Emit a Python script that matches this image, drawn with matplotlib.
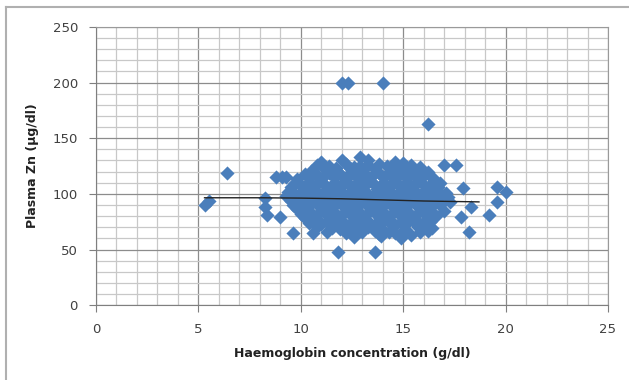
import matplotlib
matplotlib.use('Agg')
import matplotlib.pyplot as plt
from matplotlib.lines import Line2D
from matplotlib.ticker import MultipleLocator

# haemoglobin (g/dl) and plasma zinc (ug/dl)
hb = [
    11.0, 12.0, 12.9, 13.3, 14.6, 15.0,
    10.8, 11.4, 12.2, 12.6, 13.8, 14.2, 15.4, 15.8,
    10.5, 11.2, 11.8, 12.4, 13.0, 13.6, 14.4, 15.0, 15.6, 16.2,
    10.2, 10.8, 11.4, 12.0, 12.6, 13.2, 13.8, 14.4, 15.0, 15.6, 16.3,
    9.8, 10.4, 11.0, 11.6, 12.2, 12.8, 13.4, 14.0, 14.6, 15.2, 15.8, 16.5,
    9.7, 10.3, 10.9, 11.5, 12.1, 12.7, 13.3, 13.9, 14.5, 15.1, 15.7, 16.3, 16.8,
    9.5, 10.1, 10.7, 11.3, 11.9, 12.5, 13.1, 13.7, 14.3, 14.9, 15.5, 16.1, 16.7,
    9.4, 10.0, 10.6, 11.2, 11.8, 12.4, 13.0, 13.6, 14.2, 14.8, 15.4, 16.0, 16.6, 17.1,
    9.3, 9.9, 10.5, 11.1, 11.7, 12.3, 12.9, 13.5, 14.1, 14.7, 15.3, 15.9, 16.5, 17.2,
    9.5, 10.1, 10.7, 11.3, 11.9, 12.5, 13.1, 13.7, 14.3, 14.9, 15.5, 16.1, 16.7, 17.3,
    9.6, 10.2, 10.8, 11.4, 12.0, 12.6, 13.2, 13.8, 14.4, 15.0, 15.6, 16.2, 16.8,
    9.8, 10.4, 11.0, 11.6, 12.2, 12.8, 13.4, 14.0, 14.6, 15.2, 15.8, 16.4, 17.0,
    10.0, 10.6, 11.2, 11.8, 12.4, 13.0, 13.6, 14.2, 14.8, 15.4, 16.0, 16.6,
    10.2, 10.8, 11.4, 12.0, 12.6, 13.2, 13.8, 14.4, 15.0, 15.6, 16.2,
    10.4, 11.0, 11.6, 12.2, 12.8, 13.4, 14.0, 14.6, 15.2, 15.8, 16.3,
    10.8, 11.5, 12.1, 12.7, 13.3, 13.9, 14.5, 15.1, 15.7, 16.4,
    11.3, 12.2, 13.0, 13.8, 14.6, 15.4, 16.2,
    12.6, 13.9, 14.9,
    # in-between points of the dense core
    11.1, 11.7, 12.9, 13.3, 14.7, 15.2,
    10.5, 11.1, 11.7, 12.3, 12.9, 13.5, 14.1, 14.7, 15.3, 15.9,
    10.0, 10.6, 11.2, 11.8, 12.4, 13.0, 13.6, 14.2, 14.8, 15.4, 16.0, 16.5,
    9.7, 10.3, 10.9, 11.5, 12.1, 12.7, 13.3, 13.9, 14.5, 15.1, 15.7, 16.3, 16.9,
    9.9, 10.5, 11.1, 11.7, 12.3, 12.9, 13.5, 14.1, 14.7, 15.3, 15.9, 16.5,
    10.3, 10.9, 11.5, 12.1, 12.7, 13.3, 13.9, 14.5, 15.1, 15.7, 16.3,
    10.7, 11.3, 11.9, 12.5, 13.1, 13.7, 14.3, 14.9, 15.5, 16.0,
    11.9, 12.4, 13.6, 14.3, 15.0, 15.8,
    # outliers
    5.3, 5.5, 6.4, 8.8, 9.1, 9.3, 8.25, 8.25, 8.35, 9.0, 9.6, 10.6, 11.8, 13.6,
    12.0, 12.3, 14.0, 16.2, 17.0, 17.6, 17.9, 18.3, 17.8, 18.2,
    19.2, 19.6, 19.6, 20.0,
]
zn = [
    129, 130, 133, 130, 129, 128,
    126, 125, 127, 124, 127, 125, 126, 124,
    121, 122, 120, 123, 121, 122, 120, 123, 121, 120,
    118, 117, 119, 116, 118, 117, 119, 116, 118, 117, 116,
    113, 114, 112, 115, 113, 114, 112, 115, 113, 114, 112, 113,
    110, 109, 111, 108, 110, 109, 111, 108, 110, 109, 111, 108, 110,
    106, 105, 107, 104, 106, 105, 107, 104, 106, 105, 107, 104, 106,
    102, 101, 103, 100, 102, 101, 103, 100, 102, 101, 103, 100, 102, 101,
    98, 97, 99, 96, 98, 97, 99, 96, 98, 97, 99, 96, 98, 97,
    94, 93, 95, 92, 94, 93, 95, 92, 94, 93, 95, 92, 94, 93,
    90, 89, 91, 88, 90, 89, 91, 88, 90, 89, 91, 88, 90,
    86, 85, 87, 84, 86, 85, 87, 84, 86, 85, 87, 84, 85,
    82, 81, 83, 80, 82, 81, 83, 80, 82, 81, 83, 80,
    78, 77, 79, 76, 78, 77, 79, 76, 78, 77, 79,
    74, 73, 75, 72, 74, 73, 75, 72, 74, 73, 75,
    70, 69, 71, 68, 70, 69, 71, 68, 70, 69,
    66, 65, 66, 64, 65, 63, 67,
    61, 62, 60,
    124, 123, 125, 126, 124, 123,
    116, 115, 116, 117, 115, 116, 116, 115, 116, 115,
    108, 107, 108, 107, 108, 107, 108, 107, 108, 107, 108, 107,
    100, 99, 100, 99, 100, 99, 100, 99, 100, 99, 100, 99, 99,
    92, 91, 92, 91, 92, 91, 92, 91, 92, 91, 92, 91,
    84, 83, 84, 83, 84, 83, 84, 83, 84, 83, 84,
    76, 75, 76, 75, 76, 75, 76, 75, 76, 75,
    68, 67, 67, 66, 67, 66,
    90, 94, 119, 115, 115, 115, 96, 88, 81, 79, 65, 65, 48, 48,
    200, 200, 200, 163, 126, 126, 105, 88, 79, 66,
    81, 93, 106, 102,
]

# fitted trend line
trend_x = [5.3, 8.0, 10.0, 12.0, 14.0, 16.0, 18.7]
trend_y = [96.5, 96.5, 96.2, 95.6, 94.6, 93.6, 92.8]

blue = '#4a7ebb'

fig = plt.figure(figsize=(6.29, 3.8), dpi=100)
ax = fig.add_axes([0.1526, 0.197, 0.814, 0.732])

ax.scatter(hb, zn, marker='D', s=52, color=blue, linewidths=0, zorder=3)
ax.plot(trend_x, trend_y, color='#222222', lw=1.0, zorder=4)

ax.set_xlim(0, 25)
ax.set_ylim(0, 250)
ax.xaxis.set_major_locator(MultipleLocator(5))
ax.xaxis.set_minor_locator(MultipleLocator(1))
ax.yaxis.set_major_locator(MultipleLocator(50))
ax.yaxis.set_minor_locator(MultipleLocator(10))
ax.grid(which='major', color='#8c8c8c', lw=0.9, zorder=0)
ax.grid(which='minor', color='#c8c8c8', lw=0.9, zorder=0)
ax.set_axisbelow(True)

for s in ax.spines.values():
    s.set_color('#9a9a9a')
ax.spines['left'].set_color('#7f7f7f')
ax.spines['bottom'].set_color('#7f7f7f')
ax.tick_params(which='major', direction='out', length=5, color='#7f7f7f',
               labelsize=9.5, labelcolor='#404040', pad=8)
ax.tick_params(which='minor', length=0)

ax.set_xlabel('Haemoglobin concentration (g/dl)', fontsize=9, fontweight='bold',
              color='#222222', labelpad=8)
ax.set_ylabel('Plasma Zn (µg/dl)', fontsize=9, fontweight='bold',
              color='#222222', labelpad=10)

# outer chart frame (left and top edges visible)
fig.add_artist(Line2D([6 / 629, 6 / 629], [0, 1 - 7 / 380], color='#b0b0b0', lw=1.5))
fig.add_artist(Line2D([6 / 629, 1], [1 - 7 / 380, 1 - 7 / 380], color='#b0b0b0', lw=1.5))

fig.savefig('out.png', dpi=100)
